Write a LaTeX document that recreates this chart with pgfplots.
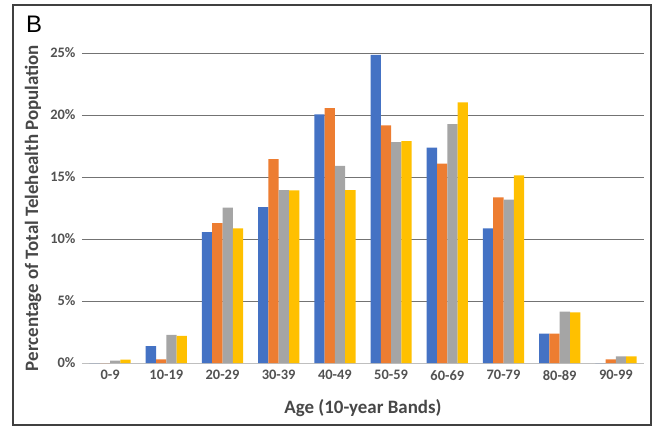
\documentclass[border=0pt]{standalone}
\usepackage{pgfplots}
\pgfplotsset{compat=1.18}
\usepackage{fontspec}
\setmainfont{Carlito}
\newfontfamily\arialfont{Liberation Sans}
\definecolor{sblue}{HTML}{4472C4}
\definecolor{sorange}{HTML}{ED7D31}
\definecolor{sgray}{HTML}{A5A5A5}
\definecolor{syellow}{HTML}{FFC000}
\begin{document}
\begin{tikzpicture}[x=1bp,y=1bp]
\useasboundingbox (-82,-64) rectangle (573,363);
\draw[black!75, line width=1.3bp] (-69,-62) rectangle (569,358);
\node[anchor=base west, inner sep=0, font=\arialfont\fontsize{24}{24}\selectfont] at (-56,331) {B};
\begin{axis}[
  at={(0,0)}, anchor=south west,
  scale only axis, width=562bp, height=310bp,
  xmin=-0.5, xmax=9.5, ymin=0, ymax=25,
  ybar=0pt, bar width=10.3bp,
  axis lines*=left,
  y axis line style={draw=none},
  x axis line style={draw=black!25, line width=0.8bp},
  major tick length=0pt,
  xtick={0,...,9},
  xticklabels={0-9,10-19,20-29,30-39,40-49,50-59,60-69,70-79,80-89,90-99},
  ytick={0,5,10,15,20,25},
  yticklabel={\pgfmathprintnumber{\tick}\%},
  extra y ticks={5,10,15,20,25},
  extra y tick labels={},
  extra y tick style={grid=major, major grid style={draw=black!55, line width=0.9bp}},
  /pgf/number format/assume math mode=true,
  tick label style={font=\bfseries\fontsize{14.5}{14.5}\selectfont, text=black!68},
  xticklabel style={yshift=-4bp},
  yticklabel style={xshift=-3bp},
  xlabel={Age (10-year Bands)},
  ylabel={Percentage of Total Telehealth Population},
  label style={font=\bfseries\fontsize{19}{19}\selectfont, text=black!72},
  xlabel style={at={(axis description cs:0.5,0)}, anchor=center, yshift=-45bp},
  ylabel style={at={(axis description cs:0,0.5)}, anchor=center, rotate=0, yshift=49bp},
]
\addplot[fill=sblue, draw=none] coordinates {(0,0) (1,1.37) (2,10.56) (3,12.58) (4,20.05) (5,24.84) (6,17.37) (7,10.86) (8,2.37) (9,0)};
\addplot[fill=sorange, draw=none] coordinates {(0,0) (1,0.3) (2,11.29) (3,16.45) (4,20.56) (5,19.17) (6,16.08) (7,13.36) (8,2.37) (9,0.3)};
\addplot[fill=sgray, draw=none] coordinates {(0,0.2) (1,2.26) (2,12.53) (3,13.95) (4,15.89) (5,17.82) (6,19.27) (7,13.17) (8,4.14) (9,0.54)};
\addplot[fill=syellow, draw=none] coordinates {(0,0.27) (1,2.18) (2,10.86) (3,13.92) (4,13.95) (5,17.9) (6,21.02) (7,15.13) (8,4.09) (9,0.54)};
\end{axis}
\end{tikzpicture}
\end{document}
